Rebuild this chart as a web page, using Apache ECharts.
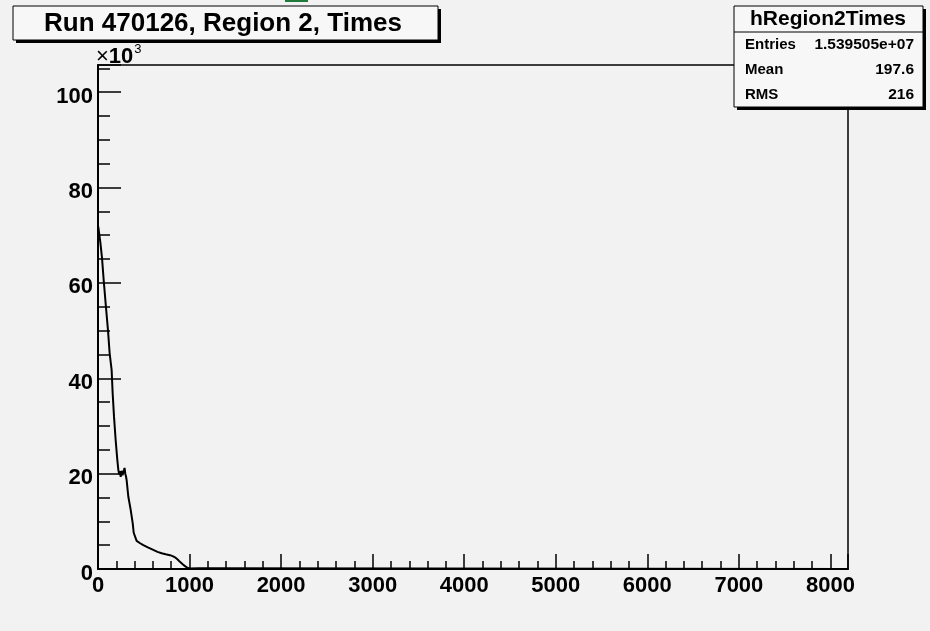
<!DOCTYPE html>
<html>
<head>
<meta charset="utf-8">
<script src="https://cdn.jsdelivr.net/npm/echarts@6/dist/echarts.min.js"></script>
<style>
html,body{margin:0;padding:0;background:#f2f2f2;}
#chart{width:930px;height:631px;}
</style>
</head>
<body>
<div id="chart"></div>
<script>
// Data (times, counts in units of 10^3)
var times = [0, 5, 15, 25, 44, 62, 87, 109, 127, 149, 160, 175, 193, 211, 222, 232, 240, 248, 258, 268, 280, 290, 298, 306, 313, 331, 357, 379, 390, 422, 460, 495, 550, 604, 650, 695, 740, 786, 815, 841, 870, 895, 925, 950, 975, 997, 1010, 1100, 1200, 1210, 8192];
var counts = [72, 71.5, 70, 68.6, 65.2, 60.6, 54.9, 50.1, 45.3, 41.7, 36.9, 31.9, 27.0, 22.9, 20.8, 19.8, 20.5, 19.3, 20.6, 19.7, 20.4, 21.2, 20.0, 19.4, 18.6, 15.2, 12.4, 9.6, 7.6, 5.9, 5.4, 5.0, 4.5, 4.0, 3.6, 3.3, 3.1, 2.9, 2.7, 2.45, 2.0, 1.5, 1.0, 0.6, 0.3, 0.1, 0.15, 0.15, 0.15, 0, 0];
var xTickLabels = ['0','1000','2000','3000','4000','5000','6000','7000','8000'];
var yTickLabels = ['0','20','40','60','80','100'];
var titleText = 'Run 470126, Region 2, Times';
var statsName = 'hRegion2Times';
var statsLabels = ['Entries', 'Mean', 'RMS'];
var statsValues = ['1.539505e+07', '197.6', '216'];

var FONT = 'Liberation Sans';
var chart = echarts.init(document.getElementById('chart'));
var pts = times.map(function(t, i){ return [t, counts[i]]; });

var graphics = [
  // green fragment at the very top
  {type:'rect', shape:{x:285, y:0, width:23, height:2}, style:{fill:'#1f7a3c'}, z:100},
  // title box
  {type:'rect', shape:{x:16, y:9, width:425, height:34}, style:{fill:'#000'}, z:100},
  {type:'rect', shape:{x:13, y:6, width:425, height:34}, style:{fill:'#f7f7f7', stroke:'#000', lineWidth:1}, z:101},
  {type:'text', x:223, y:24, style:{text:titleText, fill:'#000', font:'bold 26px "' + FONT + '"', align:'center', verticalAlign:'middle'}, z:102},
  // x10^3
  {type:'text', x:96, y:55, style:{text:'{a|×}{b|10}{c|3}', verticalAlign:'middle', rich:{
     a:{fontFamily:FONT, fontSize:22, fill:'#000', fontWeight:'normal', padding:[4,0,0,0]},
     b:{fontFamily:FONT, fontSize:22, fill:'#000', fontWeight:'bold', padding:[4,0,0,0]},
     c:{fontFamily:FONT, fontSize:13, fill:'#000', fontWeight:'normal', padding:[0,0,12,1]}
  }}, z:102},
  // stats box
  {type:'rect', shape:{x:737, y:9, width:189, height:101}, style:{fill:'#000'}, z:100},
  {type:'rect', shape:{x:734, y:6, width:189, height:101}, style:{fill:'#f7f7f7', stroke:'#000', lineWidth:1}, z:101},
  {type:'line', shape:{x1:734, y1:32, x2:923, y2:32}, style:{stroke:'#000', lineWidth:1}, z:102},
  {type:'text', x:828, y:19, style:{text:statsName, fill:'#000', font:'bold 21px "' + FONT + '"', align:'center', verticalAlign:'middle'}, z:102}
];
var rowY = [45, 70, 95];
statsLabels.forEach(function(l, i){
  graphics.push({type:'text', x:745, y:rowY[i], style:{text:l, fill:'#000', font:'bold 15px "' + FONT + '"', align:'left', verticalAlign:'middle'}, z:102});
  graphics.push({type:'text', x:914, y:rowY[i], style:{text:statsValues[i], fill:'#000', font:'bold 15.5px "' + FONT + '"', align:'right', verticalAlign:'middle'}, z:102});
});

var tickStyle = {color:'#000', width:1.5};
chart.setOption({
  backgroundColor:'#f2f2f2',
  animation:false,
  grid:{left:98, right:82, top:65, bottom:62, show:true, borderColor:'#000', borderWidth:1.5, backgroundColor:'transparent'},
  xAxis:[
    {type:'value', min:0, max:8192, interval:1000, position:'bottom',
     axisLine:{show:true, onZero:false, lineStyle:{color:'#000', width:2}},
     axisTick:{show:true, inside:true, length:15, lineStyle:tickStyle},
     axisLabel:{show:true, margin:6, color:'#000', fontFamily:FONT, fontWeight:'bold', fontSize:22,
       formatter:function(v){ var i = xTickLabels.indexOf(String(v)); return i >= 0 ? xTickLabels[i] : ''; }},
     splitLine:{show:false}},
    {type:'value', min:0, max:8192, interval:200, position:'bottom', offset:0,
     axisLine:{show:false},
     axisTick:{show:true, inside:true, length:8, lineStyle:tickStyle},
     axisLabel:{show:false}, splitLine:{show:false}}
  ],
  yAxis:[
    {type:'value', min:0, max:105.7, interval:20, position:'left',
     axisLine:{show:true, onZero:false, lineStyle:{color:'#000', width:2}},
     axisTick:{show:true, inside:true, length:23, lineStyle:tickStyle},
     axisLabel:{show:true, margin:5, color:'#000',
       rich:{a:{fontFamily:FONT, fontWeight:'bold', fontSize:22, color:'#000', padding:[9,0,0,0]}},
       formatter:function(v){ var i = yTickLabels.indexOf(String(v)); return i >= 0 ? '{a|' + yTickLabels[i] + '}' : ''; }},
     splitLine:{show:false}},
    {type:'value', min:0, max:105.7, interval:5, position:'left', offset:0,
     axisLine:{show:false},
     axisTick:{show:true, inside:true, length:12, lineStyle:tickStyle},
     axisLabel:{show:false}, splitLine:{show:false}}
  ],
  series:[{
    type:'line', xAxisIndex:0, yAxisIndex:0, data:pts, showSymbol:false, symbol:'none',
    lineStyle:{color:'#000', width:2}, z:5
  }],
  graphic:graphics
});
</script>
</body>
</html>
